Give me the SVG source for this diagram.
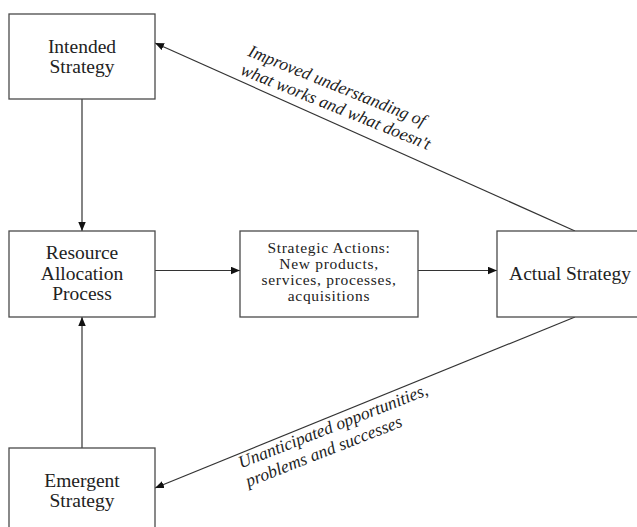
<svg xmlns="http://www.w3.org/2000/svg" width="637" height="527" viewBox="0 0 637 527">
<defs>
<style>
.box{fill:#fff;stroke:#4a4a4a;stroke-width:1.3}
.lbl{font-family:"Liberation Serif","Times New Roman",serif;font-size:19.5px;fill:#222;text-anchor:middle}
.sm{font-size:15.5px;letter-spacing:0.7px}
.it{font-family:"Liberation Serif","Times New Roman",serif;font-style:italic;font-size:17.5px;fill:#222}
.con{stroke:#333;stroke-width:1.2;fill:none;marker-end:url(#ah)}
</style>
<marker id="ah" markerUnits="userSpaceOnUse" markerWidth="10" markerHeight="8" refX="9" refY="3.75" orient="auto">
<path d="M0,0 L9,3.75 L0,7.5 z" fill="#111"/>
</marker>
</defs>
<rect width="637" height="527" fill="#fff"/>
<g id="connectors">
<line class="con" x1="82" y1="99" x2="82" y2="231"/>
<line class="con" x1="82" y1="448" x2="82" y2="317"/>
<line class="con" x1="155" y1="270.5" x2="240" y2="270.5"/>
<line class="con" x1="418" y1="270.5" x2="497" y2="270.5"/>
<line class="con" x1="575" y1="231" x2="155" y2="43"/>
<line class="con" x1="575" y1="317" x2="155" y2="488"/>
<text class="it" transform="translate(247,55.5) rotate(22)"><tspan x="0" y="0">Improved understanding of</tspan><tspan x="0" y="20">what works and what doesn't</tspan></text>
<text class="it" transform="translate(241,468.5) rotate(-21.5)"><tspan x="0" y="0">Unanticipated opportunities,</tspan><tspan x="0" y="20">problems and successes</tspan></text>
</g>
<g id="intended">
<rect class="box" x="9" y="14" width="146" height="85"/>
<text class="lbl" x="82" y="53">Intended</text>
<text class="lbl" x="82" y="73">Strategy</text>
</g>
<g id="resource">
<rect class="box" x="9" y="231" width="146" height="86"/>
<text class="lbl" x="82" y="259">Resource</text>
<text class="lbl" x="82" y="279.5">Allocation</text>
<text class="lbl" x="82" y="300">Process</text>
</g>
<g id="actions">
<rect class="box" x="240" y="231" width="178" height="86"/>
<text class="lbl sm" x="329" y="253">Strategic Actions:</text>
<text class="lbl sm" x="329" y="269">New products,</text>
<text class="lbl sm" x="329" y="285">services, processes,</text>
<text class="lbl sm" x="329" y="301">acquisitions</text>
</g>
<g id="actual">
<rect class="box" x="497" y="231" width="150" height="86"/>
<text class="lbl" x="570" y="280">Actual Strategy</text>
</g>
<g id="emergent">
<rect class="box" x="9" y="448" width="146" height="90"/>
<text class="lbl" x="82" y="487">Emergent</text>
<text class="lbl" x="82" y="507">Strategy</text>
</g>
</svg>
